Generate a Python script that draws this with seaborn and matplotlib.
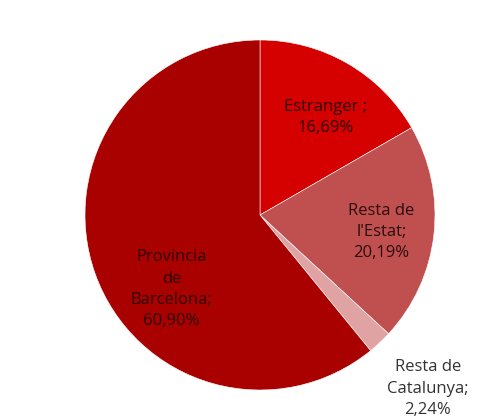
import numpy as np
import matplotlib.pyplot as plt
import seaborn as sns

labels = ["Estranger ;", "Resta de\nl'Estat;", "Resta de\nCatalunya;", "Provincia\nde\nBarcelona;"]
values = [16.69, 20.19, 2.24, 60.90]
pct_text = ["16,69%", "20,19%", "2,24%", "60,90%"]

sns.set_theme(style="white")
plt.rcParams['font.family'] = ['Open Sans', 'DejaVu Sans']

colors = sns.color_palette(["#d50000", "#c0504f", "#dfa3a3", "#a90000"])

fig = plt.figure(figsize=(4.93, 4.20), dpi=100)
ax = fig.add_axes([0, 0, 1, 1])
cx, cy, r = 260, 420 - 215, 175
wedges, _ = ax.pie(values, colors=colors, startangle=90, counterclock=False,
                   center=(cx, cy), radius=r,
                   wedgeprops=dict(edgecolor="white", linewidth=0.4))

# label placement: (angle in degrees, distance as fraction of radius)
label_pos = [(56, 0.67), (-8, 0.70), (-46, 1.38), (220, 0.66)]
text_colors = ["#2e0505", "#2a0c0c", "#333333", "#300000"]
for lab, pct, (ang, d), tc in zip(labels, pct_text, label_pos, text_colors):
    a = np.deg2rad(ang)
    ax.text(cx + d * r * np.cos(a), cy + d * r * np.sin(a), lab + "\n" + pct,
            ha="center", va="center", fontsize=12, color=tc, linespacing=1.45)

ax.set_xlim(0, 493)
ax.set_ylim(0, 420)
ax.set_aspect("equal")
ax.axis("off")
fig.savefig("out.png", dpi=100)
